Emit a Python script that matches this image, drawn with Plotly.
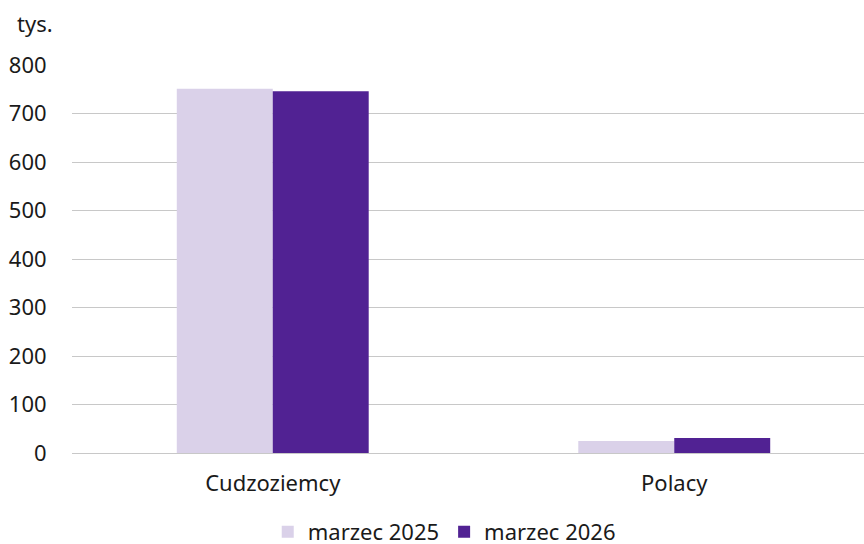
import plotly.graph_objects as go

categories = ["Cudzoziemcy", "Polacy"]
series_names = ["marzec 2025", "marzec 2026"]
values_2025 = [751, 25]
values_2026 = [746, 31]
colors = ["#DAD1E9", "#512293"]

FONT = "Noto Sans"

fig = go.Figure()
for name, vals, col in zip(series_names, [values_2025, values_2026], colors):
    fig.add_trace(go.Bar(x=categories, y=vals, name=name, marker=dict(color=col, line=dict(width=0))))

fig.update_layout(
    width=864, height=544,
    margin=dict(l=72, r=0, t=65, b=91, autoexpand=False),
    plot_bgcolor="white", paper_bgcolor="white",
    barmode="group", bargap=0.522, bargroupgap=0,
    font=dict(family=FONT, size=22, color="#1a1a1a"),
    xaxis=dict(range=[-0.5, 1.4726], showgrid=False, showline=False, automargin=False,
               ticks="outside", ticklen=11, tickcolor="rgba(0,0,0,0)",
               tickfont=dict(size=22)),
    yaxis=dict(range=[0, 800], dtick=100, showgrid=True, gridcolor="#c8c8c8", gridwidth=1,
               zeroline=True, zerolinecolor="#c8c8c8", zerolinewidth=1, automargin=False,
               ticks="outside", ticklen=20, tickcolor="rgba(0,0,0,0)",
               tickfont=dict(size=22)),
    legend=dict(orientation="h", x=0.47, xanchor="center", y=-0.2036, yanchor="middle",
                font=dict(size=22), itemwidth=30, traceorder="normal"),
    showlegend=True,
)
fig.add_annotation(text="tys.", xref="paper", yref="paper", x=-0.072, y=1.108,
                   xanchor="left", yanchor="middle", showarrow=False, font=dict(size=22))

# page body has a default 8px margin; drop it so the figure sits at the corner
fig.write_html("out.html", config={"displayModeBar": False},
               post_script="document.body.style.margin='0';")
